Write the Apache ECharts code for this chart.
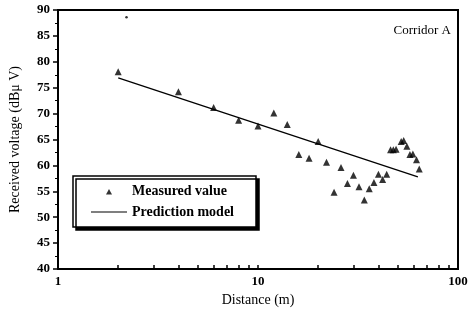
<!DOCTYPE html>
<html>
<head>
<meta charset="utf-8">
<script src="https://cdn.jsdelivr.net/npm/echarts@6/dist/echarts.min.js"></script>
<style>
html,body{margin:0;padding:0;background:#fff;}
#chart{width:471px;height:312px;}
</style>
</head>
<body>
<div id="chart"></div>
<script>
// measured points (distance in m, received voltage in dBuV)
var measuredDist = [2, 4, 6, 8, 10, 12, 14, 16, 18, 20, 22, 24, 26, 28, 30, 32, 34, 36, 38, 40, 42, 44,
    46, 47.5, 49, 52, 53.5, 55.5, 57.5, 59.5, 62, 64];
var measuredVolt = [78.1, 74.2, 71.2, 68.7, 67.6, 70.1, 67.9, 62.1, 61.4, 64.6, 60.6, 54.8, 59.6, 56.5, 58.1, 55.9, 53.3, 55.5, 56.7, 58.3, 57.3, 58.3,
    63.0, 63.0, 63.1, 64.6, 64.8, 63.7, 62.1, 62.2, 61.1, 59.3];
// stray dot near the top of the plot
var strayDist = [2.2];
var strayVolt = [88.6];
// prediction model end points
var modelDist = [2, 63];
var modelVolt = [76.9, 57.8];
// axis ticks
var xTickValues = [1, 2, 3, 4, 5, 6, 7, 8, 9, 10, 20, 30, 40, 50, 60, 70, 80, 90, 100];
var xLabelValues = [1, 10, 100];

var serif = '"Liberation Serif", "DejaVu Serif", serif';

var zip = function(xs, ys){
    var out = [];
    xs.forEach(function(x, i){
        out.push([x, ys[i]]);
    });
    return out;
};

var buildOption = function(){
    return {
        animation: false,
        backgroundColor: '#fff',
        title: {
            text: 'Corridor A',
            right: 15,
            top: 19,
            textStyle: {fontFamily: serif, fontSize: 13, fontWeight: 'normal', color: '#000'}
        },
        grid: {
            left: 57, right: 13, top: 10, bottom: 38,
            show: true, borderColor: '#000', borderWidth: 2, backgroundColor: 'transparent'
        },
        legend: {
            orient: 'vertical',
            left: 73, top: 176,
            padding: [8, 22, 8, 18],
            itemGap: 7,
            itemWidth: 36, itemHeight: 14,
            backgroundColor: '#fff',
            borderColor: '#000', borderWidth: 1.5,
            shadowColor: '#000', shadowBlur: 0, shadowOffsetX: 3, shadowOffsetY: 3,
            textStyle: {fontFamily: serif, fontSize: 14, color: '#000', fontWeight: 'bold'},
            data: [
                {name: 'Measured value', icon: 'path://M0,0M36,14M15,10.5L18,5L21,10.5Z'},
                {name: 'Prediction model', icon: 'path://M0,0M36,14M0,6.4L36,6.4L36,7.6L0,7.6Z'}
            ]
        },
        xAxis: {
            type: 'log', logBase: 10, min: 1, max: 100,
            name: 'Distance (m)', nameLocation: 'middle', nameGap: 24,
            nameTextStyle: {fontFamily: serif, fontSize: 14, color: '#000'},
            axisLine: {lineStyle: {color: '#000', width: 2}},
            axisTick: {inside: true, length: 4, customValues: xTickValues, lineStyle: {color: '#000', width: 1.5}},
            axisLabel: {customValues: xLabelValues, margin: 6, fontFamily: serif, fontSize: 13, fontWeight: 'bold', color: '#000'},
            splitLine: {show: false}
        },
        yAxis: {
            type: 'value', min: 40, max: 90, interval: 5,
            name: 'Received voltage (dB\u03bc V)', nameLocation: 'middle', nameGap: 36,
            nameTextStyle: {fontFamily: serif, fontSize: 14, color: '#000'},
            axisLine: {lineStyle: {color: '#000', width: 2}},
            axisTick: {length: 5, lineStyle: {color: '#000', width: 1.5}},
            minorTick: {show: true, splitNumber: 2, length: 3, lineStyle: {color: '#000', width: 1}},
            axisLabel: {margin: 8, fontFamily: serif, fontSize: 13, fontWeight: 'bold', color: '#000'},
            splitLine: {show: false}
        },
        series: [
            {
                name: 'Measured value',
                type: 'scatter',
                symbol: 'triangle',
                symbolSize: 7,
                itemStyle: {color: '#000'},
                data: zip(measuredDist, measuredVolt)
            },
            {
                name: 'stray',
                type: 'scatter',
                symbol: 'circle',
                symbolSize: 2.5,
                itemStyle: {color: '#000'},
                data: zip(strayDist, strayVolt)
            },
            {
                name: 'Prediction model',
                type: 'line',
                symbol: 'none',
                itemStyle: {color: '#000'},
                lineStyle: {color: '#000', width: 1.3},
                data: zip(modelDist, modelVolt)
            }
        ]
    };
};

var chart = echarts.init(document.getElementById('chart'), null, {renderer: 'canvas'});
chart.setOption(buildOption());
</script>
</body>
</html>
